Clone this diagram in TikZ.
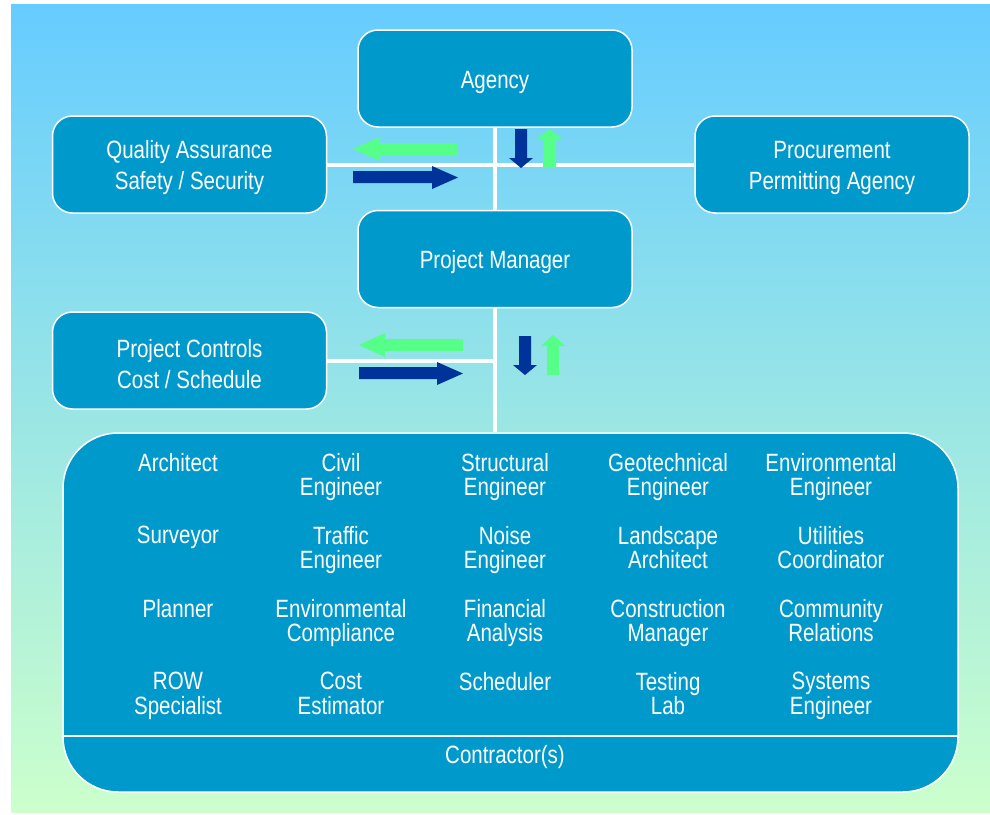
\documentclass[tikz,border=0pt]{standalone}
\usepackage{fontspec}
\setmainfont[FakeStretch=0.82]{Liberation Sans}
\definecolor{bgtop}{HTML}{66CCFF}
\definecolor{bgbot}{HTML}{CCFFCC}
\definecolor{boxblue}{HTML}{0099CC}
\definecolor{arrblue}{HTML}{003399}
\definecolor{arrgreen}{HTML}{55FF88}
\newcommand\bxfont{\fontsize{25}{31}\selectfont}
\newcommand\clfont{\fontsize{25}{24.5}\selectfont}
\begin{document}
\begin{tikzpicture}[x=1pt,y=-1pt,
  box/.style={draw=white, line width=1.5pt, fill=boxblue, rounded corners=20pt,
    minimum width=274pt, minimum height=97pt, inner sep=0pt},
  boxtext/.style={text=white, align=center, font=\bxfont, inner sep=0pt, yshift=-3.5pt},
  conn/.style={draw=white, line width=4pt},
  cell/.style={text=white, align=center, font=\clfont, anchor=north, inner sep=0pt},
  barrow/.style={fill=arrblue},
  garrow/.style={fill=arrgreen}]
\useasboundingbox (0,0) rectangle (990,814);
\shade[top color=bgtop, bottom color=bgbot] (11,4) rectangle (990,812);

% boxes
\node[box, label={[boxtext]center:Agency}] (agency) at (495,78.5) {};
\node[box, label={[boxtext]center:Quality Assurance\\Safety / Security}] (qa) at (189.5,164.5) {};
\node[box, label={[boxtext]center:Procurement\\Permitting Agency}] (proc) at (832,164.5) {};
\node[box, label={[boxtext]center:Project Manager}] (pm) at (495,259) {};
\node[box, label={[boxtext]center:Project Controls\\Cost / Schedule}] (pc) at (189.5,360.5) {};
\node[box, rounded corners=55pt, minimum width=895pt, minimum height=359pt] (team) at (510.5,612.5) {};

% connectors
\draw[conn] (agency) -- (pm);
\draw[conn] (qa) -- (proc);
\draw[conn] (pc.east) -- (pc.east -| pm.south);
\draw[conn] (pm.south) -- (pm.south |- team.north);

% separator
\coordinate (sep) at (0,736);
\draw[white, line width=2pt] (team.west |- sep) -- (team.east |- sep);

% block arrows, upper group
\fill[garrow] (353,149) -- (380,137) -- (380,143) -- (458,143) -- (458,155) -- (380,155) -- (380,161) -- cycle;
\fill[barrow] (353,171) -- (432,171) -- (432,166) -- (458,177.5) -- (432,189) -- (432,183) -- (353,183) -- cycle;
\fill[barrow] (515,129) -- (527,129) -- (527,158) -- (533,158) -- (521,168) -- (509,158) -- (515,158) -- cycle;
\fill[garrow] (543,168) -- (543,139) -- (537,139) -- (549.5,129) -- (562,139) -- (556,139) -- (556,168) -- cycle;
% block arrows, lower group
\fill[garrow] (359,345) -- (385,333) -- (385,339) -- (463,339) -- (463,351) -- (385,351) -- (385,357) -- cycle;
\fill[barrow] (359,367) -- (437,367) -- (437,362) -- (463,373.5) -- (437,385) -- (437,379) -- (359,379) -- cycle;
\fill[barrow] (519,336) -- (531,336) -- (531,365) -- (537,365) -- (525,375) -- (513,365) -- (519,365) -- cycle;
\fill[garrow] (547,375) -- (547,346) -- (541,346) -- (553,335) -- (565,346) -- (559,346) -- (559,375) -- cycle;

% team members
\node[cell] (c11) at (178,453) {Architect};
\node[cell] (c12) at (341,453) {Civil\\Engineer};
\node[cell] (c13) at (505,453) {Structural\\Engineer};
\node[cell] (c14) at (668,453) {Geotechnical\\Engineer};
\node[cell] (c15) at (831,453) {Environmental\\Engineer};
\node[cell] (c21) at (178,526) {Surveyor};
\node[cell] (c22) at (341,526) {Traffic\\Engineer};
\node[cell] (c23) at (505,526) {Noise\\Engineer};
\node[cell] (c24) at (668,526) {Landscape\\Architect};
\node[cell] (c25) at (831,526) {Utilities\\Coordinator};
\node[cell] (c31) at (178,599) {Planner};
\node[cell] (c32) at (341,599) {Environmental\\Compliance};
\node[cell] (c33) at (505,599) {Financial\\Analysis};
\node[cell] (c34) at (668,599) {Construction\\Manager};
\node[cell] (c35) at (831,599) {Community\\Relations};
\node[cell] (c41) at (178,672) {ROW\\Specialist};
\node[cell] (c42) at (341,672) {Cost\\Estimator};
\node[cell] (c43) at (505,672) {Scheduler};
\node[cell] (c44) at (668,672) {Testing\\Lab};
\node[cell] (c45) at (831,672) {Systems\\Engineer};
\node[cell, anchor=base] (contr) at (505,763) {Contractor(s)};
\end{tikzpicture}
\end{document}
